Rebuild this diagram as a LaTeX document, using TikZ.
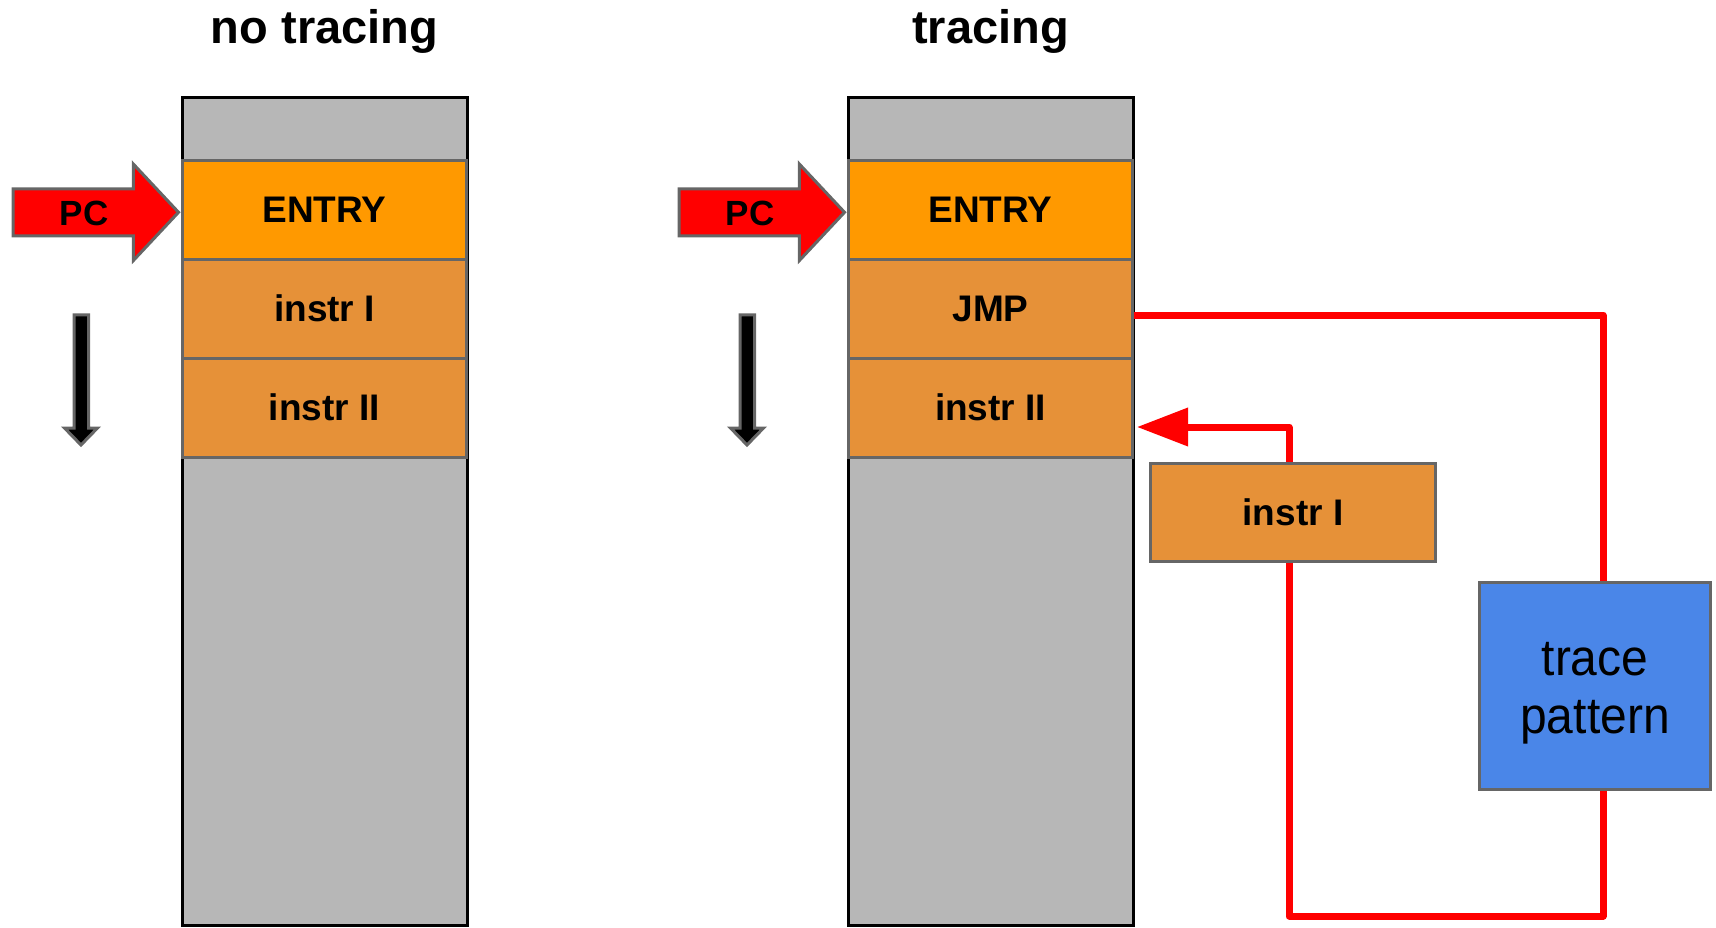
\documentclass[tikz,border=0pt]{standalone}
\usepackage{fontspec}
\setmainfont{Liberation Sans}
\usetikzlibrary{arrows.meta}
\definecolor{entryc}{HTML}{FF9900}
\definecolor{rowc}{HTML}{E69138}
\definecolor{grayc}{HTML}{B7B7B7}
\definecolor{bordc}{HTML}{666666}
\definecolor{bluec}{HTML}{4A86E8}
\definecolor{redc}{HTML}{FF0000}
\begin{document}
\begin{tikzpicture}[x=1pt,y=-1pt,
  colbox/.style={draw=black, line width=3pt, fill=grayc, minimum width=285pt, minimum height=828pt, inner sep=0pt},
  rowbox/.style={draw=bordc, line width=3pt, fill=rowc, minimum width=284pt, minimum height=99pt, inner sep=0pt, font=\fontsize{37}{44}\selectfont\bfseries},
  titletext/.style={anchor=base, inner sep=0pt, font=\fontsize{47}{56}\selectfont\bfseries},
  pctext/.style={anchor=base, inner sep=0pt, font=\fontsize{35}{42}\selectfont\bfseries},
  pcarrow/.style={draw=bordc, line width=3pt, fill=redc, line join=miter},
  downarrow/.style={draw=bordc, line width=3pt, fill=black, line join=miter},
  redline/.style={draw=redc, line width=7pt, line join=round},
  tracebox/.style={draw=bordc, line width=3.5pt, fill=bluec, minimum width=231pt, minimum height=207pt, inner sep=0pt},
  tracetext/.style={anchor=base, inner sep=0pt, font=\fontsize{48}{58}\selectfont}
]
\useasboundingbox (0,0) rectangle (1716,927);

% ---------- left: no tracing ----------
\node[titletext] (tL) at (324.5,43) {no tracing};
\node[colbox] (colL) at (324.5,511.5) {};
\node[rowbox, fill=entryc] (entL) at (324.5,209.5) {ENTRY};
\node[rowbox] (i1L) at (324.5,308.5) {instr I};
\node[rowbox] (i2L) at (324.5,407.5) {instr II};
\draw[pcarrow] (13,188.8) -- (133.3,188.8) -- (133.3,164) -- (178.5,212.3) -- (133.3,260.6) -- (133.3,235.8) -- (13,235.8) -- cycle;
\node[pctext] (pcL) at (84,225) {PC};
\draw[downarrow] (74,314.8) -- (88.5,314.8) -- (88.5,428) -- (97.5,428) -- (81,445) -- (64.5,428) -- (74,428) -- cycle;

% ---------- right: tracing ----------
\node[titletext] (tR) at (990.5,43) {tracing};
\node[colbox] (colR) at (990.5,511.5) {};
\node[rowbox, fill=entryc] (entR) at (990.5,209.5) {ENTRY};
\node[rowbox] (jmp) at (990.5,308.5) {JMP};
\node[rowbox] (i2R) at (990.5,407.5) {instr II};
\draw[pcarrow] (679,188.8) -- (799.3,188.8) -- (799.3,164) -- (844.5,212.3) -- (799.3,260.6) -- (799.3,235.8) -- (679,235.8) -- cycle;
\node[pctext] (pcR) at (750,225) {PC};
\draw[downarrow] (740,314.8) -- (754.5,314.8) -- (754.5,428) -- (763.5,428) -- (747,445) -- (730.5,428) -- (740,428) -- cycle;

\node[rowbox, minimum width=285pt, minimum height=97.5pt] (i1R) at (1293,512.25) {instr I};
\node[tracebox] (trace) at (1595,686) {};
\node[tracetext] (traceA) at (1595,675) {\scalebox{1}[1.07]{trace}};
\node[tracetext] (traceB) at (1595,733) {\scalebox{1}[1.07]{pattern}};

\coordinate (ret) at (1137,427);
\coordinate (botR) at (1603,916);

\draw[redline] ([yshift=-6.5pt]jmp.east) -| ([xshift=8pt]trace.north);
\draw[redline, -{Triangle[length=51pt,width=37pt]}] ([xshift=-4pt]i1R.north) |- (ret);
\draw[redline] ([xshift=-4pt]i1R.south) |- (botR) -- ([xshift=8pt]trace.south);
\end{tikzpicture}
\end{document}
